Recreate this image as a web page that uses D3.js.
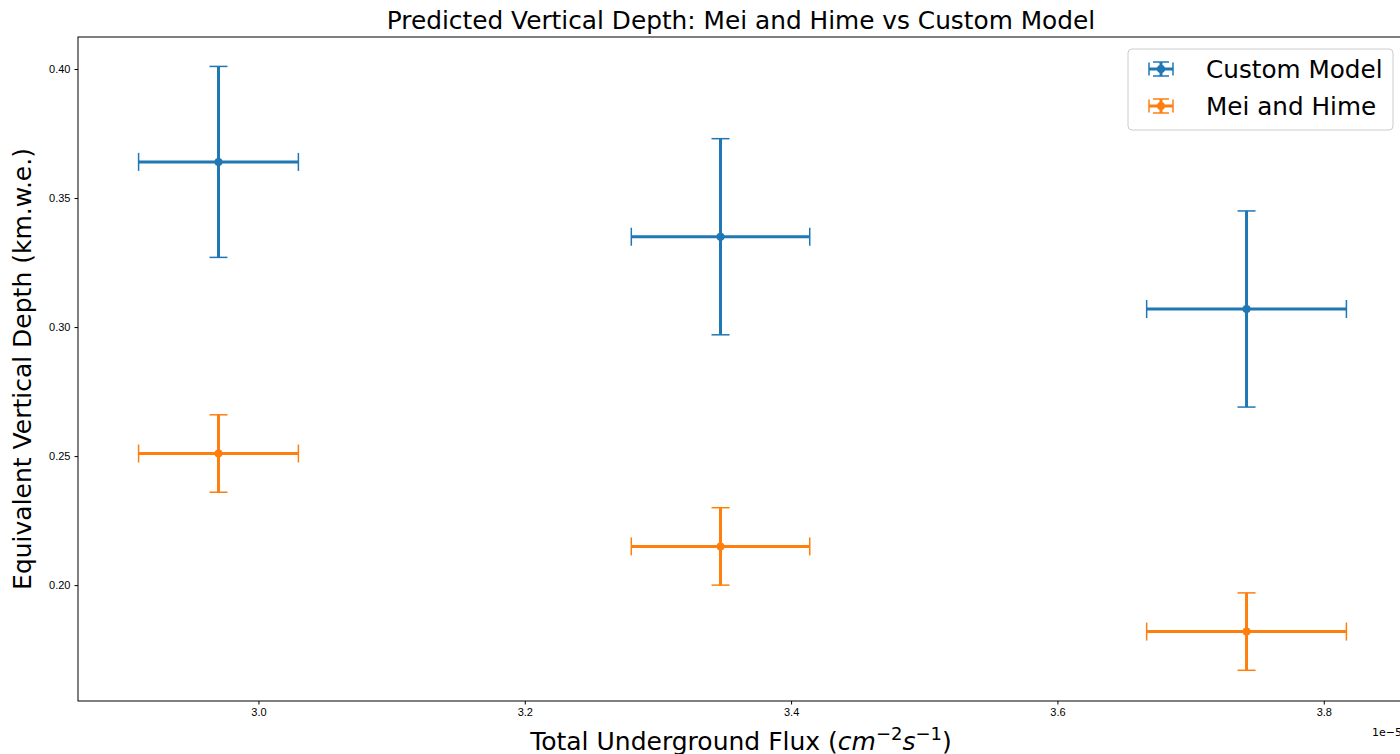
<!DOCTYPE html>
<html>
<head>
<meta charset="utf-8">
<script src="https://cdn.jsdelivr.net/npm/d3@7"></script>
<style>
  html, body { margin: 0; padding: 0; background: #fff; overflow: hidden; }
  svg { display: block; font-family: "DejaVu Sans", sans-serif; }
</style>
</head>
<body>
<svg id="chart" width="1400" height="754"></svg>
<script>
// flux values (units of 1e-5)
const flux = [2.970, 3.347, 3.742];
const fluxErr = [0.060, 0.067, 0.075];

const customDepth = [0.364, 0.335, 0.307];
const customErr = [0.037, 0.038, 0.038];

const meiDepth = [0.251, 0.215, 0.182];
const meiErr = [0.015, 0.015, 0.015];

const xTicks = [3.0, 3.2, 3.4, 3.6, 3.8];
const yTicks = [0.20, 0.25, 0.30, 0.35, 0.40];

const series = [
    { name: "Custom Model", color: "#1f77b4", y: customDepth, yerr: customErr },
    { name: "Mei and Hime", color: "#ff7f0e", y: meiDepth, yerr: meiErr }
];

const svg = d3.select("#chart");
const margin = { top: 37, right: -5, bottom: 53, left: 78 };
const width = 1400, height = 754;

const x = d3.scaleLinear().domain([2.8645, 3.861]).range([margin.left, width - margin.right]);
const y = d3.scaleLinear().domain([0.1551, 0.4124]).range([height - margin.bottom, margin.top]);

// === Axes ===
svg.append("g").attr("transform", `translate(0,${height - margin.bottom})`)
    .call(d3.axisBottom(x).tickValues(xTicks).tickFormat(d3.format(".1f")).tickSizeOuter(0).tickSize(3.5).tickPadding(4))
    .call(g => g.select(".domain").remove())
    .selectAll("text").style("font-size", "11px").attr("fill", "#000");
svg.append("g").attr("transform", `translate(${margin.left},0)`)
    .call(d3.axisLeft(y).tickValues(yTicks).tickFormat(d3.format(".2f")).tickSizeOuter(0).tickSize(3.5).tickPadding(4))
    .call(g => g.select(".domain").remove())
    .selectAll("text").style("font-size", "11px").attr("fill", "#000");

// spines
svg.append("rect")
    .attr("x", margin.left).attr("y", margin.top)
    .attr("width", width - margin.right - margin.left)
    .attr("height", height - margin.bottom - margin.top)
    .attr("fill", "none").attr("stroke", "#000").attr("stroke-width", 1);

// === Error bars ===
series.forEach(s => {
    const g = svg.append("g");
    flux.forEach((fx, i) => {
        const cx = x(fx), cy = y(s.y[i]);
        const x0 = x(fx - fluxErr[i]), x1 = x(fx + fluxErr[i]);
        const y0 = y(s.y[i] - s.yerr[i]), y1 = y(s.y[i] + s.yerr[i]);
        g.append("line").attr("x1", x0).attr("x2", x1).attr("y1", cy).attr("y2", cy)
            .attr("stroke", s.color).attr("stroke-width", 3);
        g.append("line").attr("x1", cx).attr("x2", cx).attr("y1", y0).attr("y2", y1)
            .attr("stroke", s.color).attr("stroke-width", 3);
        // caps
        [[x0, cy, "v"], [x1, cy, "v"], [cx, y0, "h"], [cx, y1, "h"]].forEach(([px, py, o]) => {
            g.append("line")
                .attr("x1", o === "h" ? px - 9 : px).attr("x2", o === "h" ? px + 9 : px)
                .attr("y1", o === "v" ? py - 9 : py).attr("y2", o === "v" ? py + 9 : py)
                .attr("stroke", s.color).attr("stroke-width", 1.5);
        });
        g.append("circle").attr("cx", cx).attr("cy", cy).attr("r", 4).attr("fill", s.color);
    });
});

// === Legend ===
const lg = svg.append("g");
lg.append("rect").attr("x", 1128).attr("y", 49).attr("width", 265).attr("height", 81)
    .attr("rx", 4).attr("fill", "#fff").attr("fill-opacity", 0.8)
    .attr("stroke", "#ccc").attr("stroke-width", 1);
series.forEach((s, i) => {
    const cy = 69 + i * 37, cx = 1161;
    const hw = 12, hh = 7;
    lg.append("line").attr("x1", cx - hw).attr("x2", cx + hw).attr("y1", cy).attr("y2", cy)
        .attr("stroke", s.color).attr("stroke-width", 3);
    lg.append("line").attr("x1", cx).attr("x2", cx).attr("y1", cy - hh).attr("y2", cy + hh)
        .attr("stroke", s.color).attr("stroke-width", 3);
    lg.append("line").attr("x1", cx - hw).attr("x2", cx - hw).attr("y1", cy - 6.5).attr("y2", cy + 6.5)
        .attr("stroke", s.color).attr("stroke-width", 1.5);
    lg.append("line").attr("x1", cx + hw).attr("x2", cx + hw).attr("y1", cy - 6.5).attr("y2", cy + 6.5)
        .attr("stroke", s.color).attr("stroke-width", 1.5);
    lg.append("line").attr("x1", cx - 8).attr("x2", cx + 8).attr("y1", cy - hh).attr("y2", cy - hh)
        .attr("stroke", s.color).attr("stroke-width", 1.5);
    lg.append("line").attr("x1", cx - 8).attr("x2", cx + 8).attr("y1", cy + hh).attr("y2", cy + hh)
        .attr("stroke", s.color).attr("stroke-width", 1.5);
    lg.append("circle").attr("cx", cx).attr("cy", cy).attr("r", 4).attr("fill", s.color);
    lg.append("text").attr("x", 1206).attr("y", cy).attr("dy", "0.36em")
        .style("font-size", "24.7px").text(s.name);
});

// === Labels ===
svg.append("text").attr("x", 741).attr("y", 29).attr("text-anchor", "middle")
    .style("font-size", "24.8px").text("Predicted Vertical Depth: Mei and Hime vs Custom Model");

const xl = svg.append("text").attr("x", 741).attr("y", 750).attr("text-anchor", "middle")
    .style("font-size", "25px");
xl.append("tspan").text("Total Underground Flux (");
xl.append("tspan").attr("font-style", "italic").text("cm");
xl.append("tspan").attr("dy", -10).style("font-size", "18px").text("−2");
xl.append("tspan").attr("dy", 10).attr("font-style", "italic").text("s");
xl.append("tspan").attr("dy", -10).style("font-size", "18px").text("−1");
xl.append("tspan").attr("dy", 10).text(")");

svg.append("text").attr("transform", "translate(31,369) rotate(-90)").attr("text-anchor", "middle")
    .style("font-size", "25px").text("Equivalent Vertical Depth (km.w.e.)");

svg.append("text").attr("x", 1372).attr("y", 736).style("font-size", "11px").text("1e−5");
</script>
</body>
</html>
